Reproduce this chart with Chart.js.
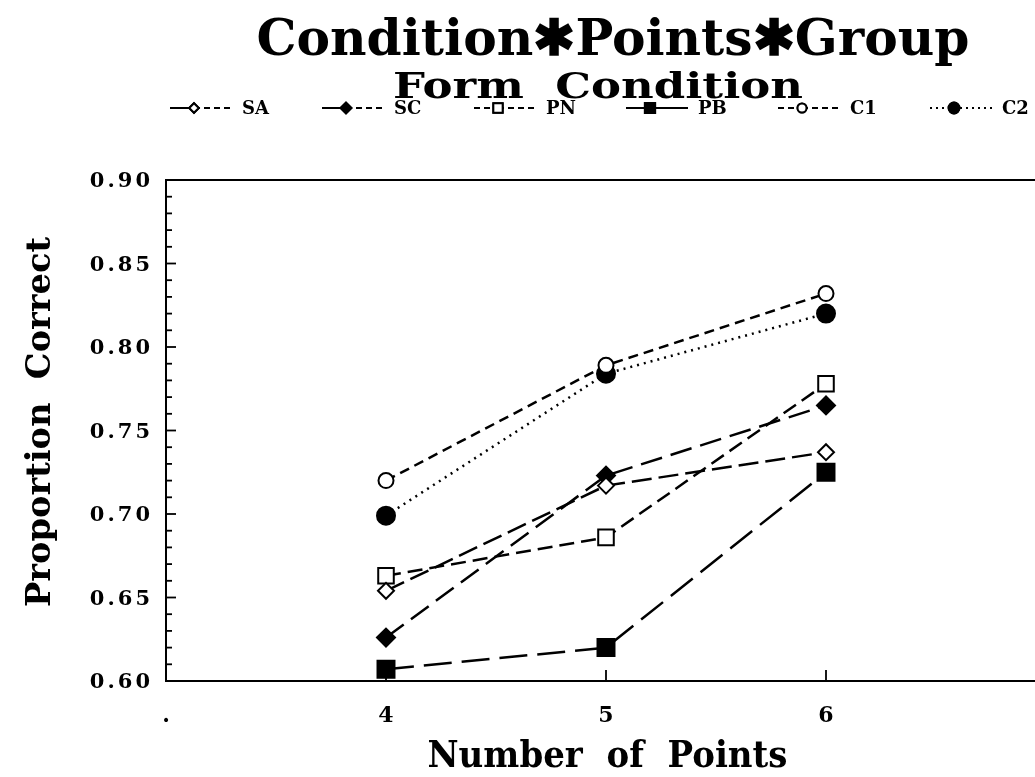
<!DOCTYPE html>
<html>
<head>
<meta charset="utf-8">
<script src="https://cdn.jsdelivr.net/npm/chart.js@4.4.0/dist/chart.umd.min.js"></script>
<style>
  html, body { margin: 0; padding: 0; background: #fff; }
  #wrap { width: 1035px; height: 777px; }
</style>
</head>
<body>
<div id="wrap"><canvas id="chart" width="1035" height="777"></canvas></div>
<script>
// Proportion correct by number of points, one series per form condition
const pointCounts = [4, 5, 6];
const groupNames = ['SA', 'SC', 'PN', 'PB', 'C1', 'C2'];
const saValues = [0.654, 0.717, 0.737];
const scValues = [0.626, 0.723, 0.765];
const pnValues = [0.663, 0.686, 0.778];
const pbValues = [0.607, 0.620, 0.725];
const c1Values = [0.720, 0.789, 0.832];
const c2Values = [0.699, 0.784, 0.820];

const xTickValues = [3, 4, 5, 6];
const xTickLabels = ['.', '4', '5', '6'];
const yTickValues = [0.60, 0.65, 0.70, 0.75, 0.80, 0.85, 0.90];

const SERIF = '"DejaVu Serif", serif';

// marker + dash look for each group
const groupStyles = [
    { values: saValues, point: 'rectRot', radius: 8, fill: '#fff', dash: [20, 7], legL: [], legR: [6, 4] },
    { values: scValues, point: 'rectRot', radius: 9, fill: '#000', dash: [22, 9], legL: [], legR: [6, 4] },
    { values: pnValues, point: 'rect', radius: 11, fill: '#fff', dash: [15, 7], legL: [6, 4], legR: [6, 4] },
    { values: pbValues, point: 'rect', radius: 12, fill: '#000', dash: [28, 10], legL: [], legR: [] },
    { values: c1Values, point: 'circle', radius: 7.5, fill: '#fff', dash: [10, 6], legL: [6, 4], legR: [6, 4] },
    { values: c2Values, point: 'circle', radius: 9, fill: '#000', dash: [2, 5], legL: [2, 4], legR: [2, 4] }
];

const datasets = groupNames.map((name, i) => {
    const s = groupStyles[i];
    return {
        label: name,
        data: pointCounts.map((x, j) => ({ x: x, y: s.values[j] })),
        borderColor: '#000',
        borderWidth: 2.5,
        borderDash: s.dash,
        pointStyle: s.point,
        pointRadius: s.radius,
        pointHoverRadius: s.radius,
        pointBackgroundColor: s.fill,
        pointBorderColor: '#000',
        pointBorderWidth: 2,
        tension: 0,
        clip: false
    };
});

// draw text centred at cx, squeezed/stretched to a given width
function fitText(ctx, text, cx, baseY, px, width) {
    ctx.font = 'bold ' + px + 'px ' + SERIF;
    const w = ctx.measureText(text).width;
    ctx.save();
    ctx.translate(cx, baseY);
    ctx.scale(width / w, 1);
    ctx.textAlign = 'center';
    ctx.textBaseline = 'alphabetic';
    ctx.fillText(text, 0, 0);
    ctx.restore();
}

const decorPlugin = {
    id: 'decor',
    afterDraw(chart) {
        const ctx = chart.ctx;
        const area = chart.chartArea;
        const xs = chart.scales.x;
        const ys = chart.scales.y;
        ctx.save();
        ctx.fillStyle = '#000';
        ctx.strokeStyle = '#000';

        // titles
        fitText(ctx, 'Condition\u2731Points\u2731Group', 613, 55, 50, 713);
        fitText(ctx, 'Form  Condition', 598, 98, 35, 410);

        // legend row
        let lx = 170;
        const ly = 108;
        groupNames.forEach((name, i) => {
            const s = groupStyles[i];
            const mid = lx + 24;
            ctx.lineWidth = 2;
            ctx.setLineDash(s.legL);
            ctx.beginPath(); ctx.moveTo(lx, ly); ctx.lineTo(mid, ly); ctx.stroke();
            ctx.setLineDash(s.legR);
            ctx.beginPath(); ctx.moveTo(mid, ly); ctx.lineTo(lx + 62, ly); ctx.stroke();
            ctx.setLineDash([]);
            Chart.helpers.drawPoint(ctx, {
                pointStyle: s.point, radius: s.radius * 0.6, borderWidth: 1.6
            }, mid, ly);
            ctx.fillStyle = s.fill;
            ctx.fill();
            ctx.stroke();
            ctx.fillStyle = '#000';
            ctx.font = 'bold 18px ' + SERIF;
            ctx.textAlign = 'left';
            ctx.textBaseline = 'middle';
            ctx.fillText(name, lx + 72, ly + 1);
            lx += 152;
        });

        // top border
        ctx.lineWidth = 2;
        ctx.beginPath();
        ctx.moveTo(area.left, area.top);
        ctx.lineTo(area.right, area.top);
        ctx.stroke();

        // inward ticks on y axis, minor every 0.01
        ctx.lineWidth = 1.8;
        for (let k = 60; k <= 90; k++) {
            const y = ys.getPixelForValue(k / 100);
            const len = k % 5 === 0 ? 10 : 6;
            ctx.beginPath();
            ctx.moveTo(area.left, y);
            ctx.lineTo(area.left + len, y);
            ctx.stroke();
        }
        // inward ticks on x axis
        pointCounts.forEach(v => {
            const x = xs.getPixelForValue(v);
            ctx.beginPath();
            ctx.moveTo(x, area.bottom);
            ctx.lineTo(x, area.bottom - 11);
            ctx.stroke();
        });

        // y tick labels, spaced out
        ctx.font = 'bold 21px ' + SERIF;
        ctx.letterSpacing = '3px';
        ctx.textAlign = 'right';
        ctx.textBaseline = 'middle';
        yTickValues.forEach(v => {
            ctx.fillText(v.toFixed(2), 153, ys.getPixelForValue(v) + 2);
        });
        ctx.letterSpacing = '0px';

        // axis titles
        fitText(ctx, 'Number  of  Points', (area.left + area.right) / 2 + 7, 767, 37, 360);
        ctx.save();
        ctx.translate(50, 422);
        ctx.rotate(-Math.PI / 2);
        fitText(ctx, 'Proportion  Correct', 0, 0, 34, 370);
        ctx.restore();
        ctx.restore();
    }
};

new Chart(document.getElementById('chart'), {
    type: 'line',
    data: { datasets: datasets },
    options: {
        responsive: false,
        animation: false,
        layout: { autoPadding: false, padding: { top: 180, left: 0, right: 0, bottom: 0 } },
        plugins: {
            legend: { display: false },
            tooltip: { enabled: false }
        },
        scales: {
            x: {
                type: 'linear',
                min: 3,
                max: 6.95,
                afterFit: s => { s.height = 96; s.paddingLeft = 0; s.paddingRight = 0; },
                afterBuildTicks: s => { s.ticks = xTickValues.map(v => ({ value: v })); },
                grid: { display: false, drawTicks: false },
                border: { display: true, color: '#000', width: 2 },
                ticks: {
                    padding: 22,
                    color: '#000',
                    font: { family: SERIF, size: 22, weight: 'bold' },
                    callback: (v) => xTickLabels[xTickValues.indexOf(v)]
                }
            },
            y: {
                min: 0.6,
                max: 0.9,
                afterFit: s => { s.width = 166; s.paddingTop = 0; s.paddingBottom = 0; },
                afterBuildTicks: s => { s.ticks = yTickValues.map(v => ({ value: v })); },
                grid: { display: false, drawTicks: false },
                border: { display: true, color: '#000', width: 2 },
                ticks: { display: false }
            }
        }
    },
    plugins: [decorPlugin]
});
</script>
</body>
</html>
